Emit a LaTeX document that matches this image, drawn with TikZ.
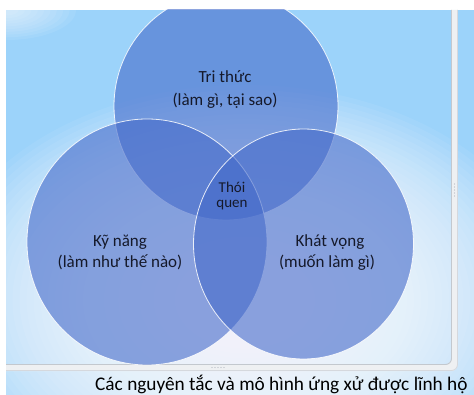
\documentclass[tikz,border=0pt]{standalone}
\usepackage{fontspec}
\setmainfont{Carlito}

\definecolor{bgblue}{HTML}{9CD3FA}
\definecolor{discfill}{RGB}{68,106,202}
\definecolor{labeltext}{HTML}{15192A}
\definecolor{frameline}{HTML}{C3C8CE}
\definecolor{framestrip}{HTML}{EEF0F2}
\definecolor{gripdot}{HTML}{B4B9C0}

\begin{document}
\begin{tikzpicture}[x=1pt,y=-1pt,
  disc/.style={fill=discfill, fill opacity=0.6, draw=white, draw opacity=0.85, line width=0.8pt},
  lbl/.style={text=labeltext, anchor=base, inner sep=0pt, font=\fontsize{17}{20}\selectfont},
  smalllbl/.style={lbl, font=\fontsize{15}{17}\selectfont},
  caption/.style={text=black, anchor=base west, inner sep=0pt, font=\fontsize{19.3}{22}\selectfont}]
\useasboundingbox (0,0) rectangle (474,395);
\fill[white] (0,0) rectangle (474,395);

% backdrop: blue with a soft white glow built from stacked translucent ellipses
\begin{scope}
  \clip (6,10) rectangle (474,395);
  \fill[bgblue] (6,10) rectangle (474,395);
  \foreach \k in {0,...,39}
    \fill[white, fill opacity=0.065]
      (245,300) ellipse [x radius={310*(1-\k/44)}, y radius={215*(1-\k/44)}];
  \foreach \k in {0,...,9}
    \fill[white, fill opacity=0.08]
      (6,10) ellipse [x radius={70*(1-\k/11)}, y radius={30*(1-\k/11)}];
\end{scope}

% panel frame: bottom edge and right strip
\fill[framestrip] (451.5,10) -- (457.5,10) -- (457.5,365) arc[start angle=0, end angle=90, radius=6] -- (6,371) -- (6,364.5) -- (445.5,364.5) arc[start angle=90, end angle=0, radius=6] -- cycle;
\draw[frameline, line width=0.9pt] (6,364.5) -- (445.5,364.5) arc[start angle=90, end angle=0, radius=6] -- (451.5,10);
\draw[frameline!70!white, line width=0.8pt] (6,370.5) -- (451.5,370.5) arc[start angle=90, end angle=0, radius=6] -- (457.5,10);

% grips
\foreach \gx in {212,215,218,221,224} \fill[gripdot] (\gx,367.5) circle (0.7);
\foreach \gy in {184,187,190,193,196} \fill[gripdot] (454.5,\gy) circle (0.7);

% three overlapping discs
\begin{scope}
  \clip (6,10) rectangle (451,364);
  \path[disc] (226,106) ellipse [x radius=112, y radius=114];
  \path[disc] (147,242) ellipse [x radius=120, y radius=123];
  \path[disc] (303.5,244) ellipse [x radius=110, y radius=115];
\end{scope}

% labels
\node[lbl] (know1) at (225,83) {Tri thức};
\node[lbl] (know2) at (225,106) {(làm gì, tại sao)};
\node[lbl] (skill1) at (120,246.5) {Kỹ năng};
\node[lbl] (skill2) at (120,268) {(làm như thế nào)};
\node[lbl] (want1) at (330,246.5) {Khát vọng};
\node[lbl] (want2) at (327,268) {(muốn làm gì)};
\node[smalllbl] (habit1) at (232,193) {Thói};
\node[smalllbl] (habit2) at (232,208) {quen};

% caption under the panel
\node[caption] (note) at (95,390.5) {Các nguyên tắc và mô hình ứng xử được lĩnh hộ};
\end{tikzpicture}
\end{document}
